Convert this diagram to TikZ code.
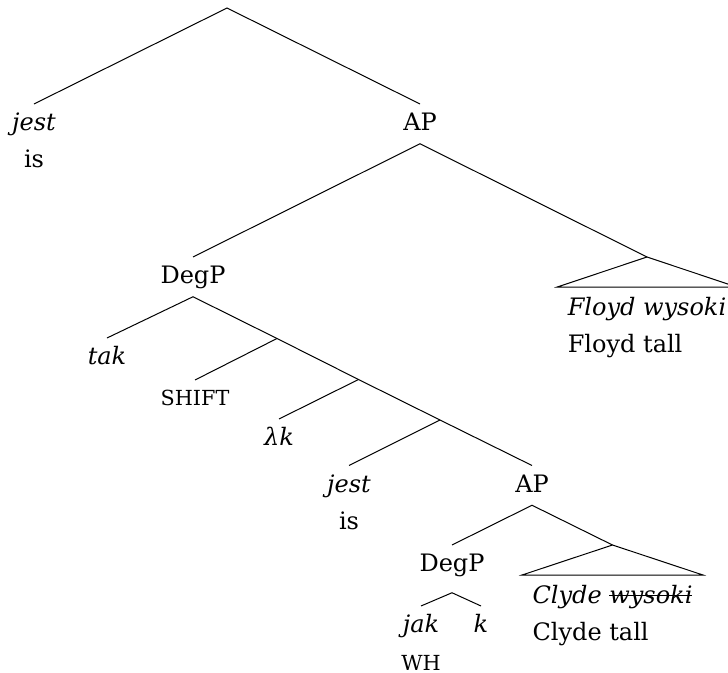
\documentclass[tikz,border=0pt]{standalone}
\usepackage{fontspec}
\setmainfont{DejaVu Serif}
\usetikzlibrary{calc,positioning}

\newcommand{\treefont}{\fontsize{9.6}{14.4}\selectfont}
\newcommand{\featfont}{\fontsize{8.3}{9.5}\selectfont}
\newsavebox{\strikebox}
\newcommand{\struck}[1]{\sbox{\strikebox}{#1}\rlap{\rule[2.9pt]{\wd\strikebox}{0.4pt}}\usebox{\strikebox}}

\begin{document}
\begin{tikzpicture}[x=0.4pt, y=-0.4pt]

    \tikzstyle{cat} = [inner sep=0pt, text height=10.5pt, text depth=5pt, anchor=north, font=\treefont]
    \tikzstyle{lex} = [cat, font=\treefont\itshape]
    \tikzstyle{gloss} = [cat]
    \tikzstyle{feat} = [inner sep=0pt, text height=10pt, text depth=0pt, anchor=north, font=\featfont]
    \tikzstyle{leaf} = [lex, inner xsep=4pt, text height=11pt]

    \useasboundingbox (0,0) rectangle (728,673);

    \coordinate (root) at (227,8);

    \node (jestA)  [lex]    at (34,104)     {jest};
    \node (jestB)  [gloss, below=-1.1pt of jestA] {is};
    \node (ap1)    [cat]    at (420,104)    {AP};

    \node (degp1)  [cat]    at (193,257)    {DegP};
    \node (floydA) [leaf]   at (647,287)    {Floyd wysoki};
    \node (floydB) [gloss, below right=-1.1pt and 4pt of floydA.south west] {Floyd tall};

    \node (tak)    [lex]    at (107,338)    {tak};
    \coordinate (j1) at (277,338.5);
    \node (shift)  [feat]   at (195,380)    {SHIFT};
    \coordinate (j2) at (358.5,379.5);
    \node (lamk)   [lex]    at (279,419)    {λk};
    \coordinate (j3) at (440,420);

    \node (jestC)  [lex]    at (349,465.5)  {jest};
    \node (jestD)  [gloss, below=-1.1pt of jestC] {is};
    \node (ap2)    [cat]    at (532,465.5)  {AP};

    \node (degp2)  [cat]    at (452,545)    {DegP};
    \node (clydeA) [leaf]   at (612.5,575)  {Clyde \struck{wysoki}};
    \node (clydeB) [gloss, below right=-1.1pt and 4pt of clydeA.south west] {Clyde tall};

    \node (jak)    [lex]    at (421,606)    {jak};
    \node (wh)     [feat, below=-0.4pt of jak] {WH};
    \node (k)      [lex]    at (481,606)    {k};

    \coordinate (floydT) at ($(floydA.north)+(0,12pt)$);
    \coordinate (clydeT) at ($(clydeA.north)+(0,12pt)$);

    \draw (jestA.north) -- (root) -- (ap1.north);
    \draw (degp1.north) -- (ap1.south) -- (floydT);
    \draw (floydT) -- (floydA.north west) -- (floydA.north east) -- cycle;

    \draw (tak.north) -- (degp1.south) -- (j1) -- (j2) -- (j3) -- (ap2.north);
    \draw (shift.north) -- (j1);
    \draw (lamk.north) -- (j2);
    \draw (jestC.north) -- (j3);

    \draw (degp2.north) -- (ap2.south) -- (clydeT);
    \draw (clydeT) -- (clydeA.north west) -- (clydeA.north east) -- cycle;
    \draw (jak.north) -- ([yshift=-3.2pt]degp2.south) -- (k.north);
\end{tikzpicture}
\end{document}
